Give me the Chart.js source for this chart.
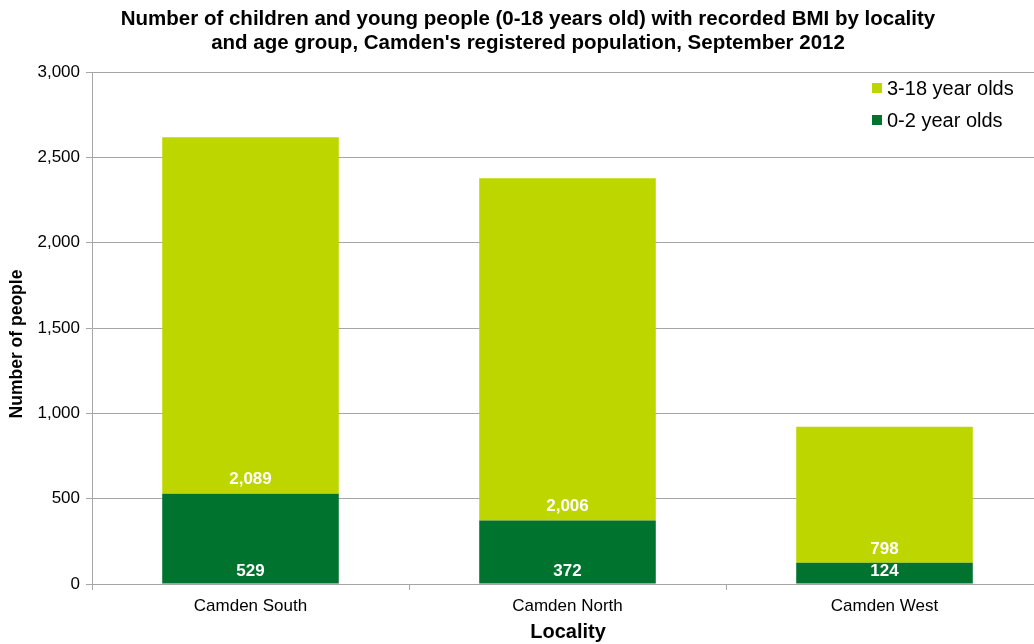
<!DOCTYPE html>
<html>
<head>
<meta charset="utf-8">
<title>Children with recorded BMI by locality</title>
<script src="https://cdn.jsdelivr.net/npm/chart.js@4/dist/chart.umd.min.js"></script>
<style>
  html, body { margin: 0; padding: 0; background: #fff; overflow: hidden; }
  #wrap { width: 1034px; height: 644px; position: relative; overflow: hidden; }
  canvas { display: block; }
</style>
</head>
<body>
<div id="wrap"><canvas id="bmiChart" width="1044" height="644"></canvas></div>
<script>
// Localities and counts by age group
const localities = ["Camden South", "Camden North", "Camden West"];
const age0to2 = [529, 372, 124];
const age3to18 = [2089, 2006, 798];
const yTicks = [0, 500, 1000, 1500, 2000, 2500, 3000];

const titleLines = [
  "Number of children and young people (0-18 years old) with recorded BMI by locality",
  "and age group, Camden's registered population, September 2012"
];
const yTitle = "Number of people";
const xTitle = "Locality";

const FONT = "'Liberation Sans', Arial, sans-serif";
const DARK_GREEN = "#00732E";
const LIGHT_GREEN = "#BED600";

// Draws title, axis titles, legend and in-bar value labels
const annotations = {
  id: "annotations",
  afterDraw(chart) {
    const ctx = chart.ctx;
    ctx.save();

    // main title
    ctx.fillStyle = "#000";
    ctx.font = "bold 20.5px " + FONT;
    ctx.textAlign = "center";
    ctx.textBaseline = "middle";
    ctx.fillText(titleLines[0], 528, 19);
    ctx.fillText(titleLines[1], 528, 43);

    // axis titles
    ctx.font = "bold 20px " + FONT;
    ctx.fillText(xTitle, 568, 632);
    ctx.save();
    ctx.font = "bold 17.5px " + FONT;
    ctx.translate(17, 344);
    ctx.rotate(-Math.PI / 2);
    ctx.fillText(yTitle, 0, 0);
    ctx.restore();

    // legend, top right inside the plot
    const items = [
      { text: "3-18 year olds", color: LIGHT_GREEN },
      { text: "0-2 year olds", color: DARK_GREEN }
    ];
    ctx.font = "20px " + FONT;
    ctx.textAlign = "left";
    items.forEach((it, i) => {
      const y = 88 + i * 32;
      ctx.fillStyle = it.color;
      ctx.fillRect(872, y - 5, 10, 10);
      ctx.fillStyle = "#000";
      ctx.fillText(it.text, 887, y + 1);
    });

    // value labels at the base of each segment
    ctx.font = "bold 17px " + FONT;
    ctx.textAlign = "center";
    ctx.fillStyle = "#fff";
    const offsets = [12, 14];
    chart.data.datasets.forEach((ds, di) => {
      const meta = chart.getDatasetMeta(di);
      meta.data.forEach((bar, i) => {
        ctx.fillText(ds.data[i].toLocaleString("en-GB"), bar.x, bar.base - offsets[di]);
      });
    });

    ctx.restore();
  }
};

new Chart(document.getElementById("bmiChart"), {
  type: "bar",
  data: {
    labels: localities,
    datasets: [
      {
        label: "0-2 year olds",
        data: age0to2,
        backgroundColor: DARK_GREEN
      },
      {
        label: "3-18 year olds",
        data: age3to18,
        backgroundColor: LIGHT_GREEN
      }
    ]
  },
  options: {
    responsive: false,
    animation: false,
    layout: { padding: { top: 72, right: 1, left: 0, bottom: 0 } },
    datasets: {
      bar: { barPercentage: 0.557, categoryPercentage: 1 }
    },
    plugins: {
      legend: { display: false },
      title: { display: false },
      tooltip: { enabled: false }
    },
    scales: {
      x: {
        stacked: true,
        afterFit(scale) { scale.height = 60; },
        grid: {
          offset: true,
          drawOnChartArea: false,
          drawTicks: true,
          tickLength: 6,
          color: "#a6a6a6"
        },
        border: { color: "#a6a6a6", width: 1 },
        ticks: {
          color: "#000",
          font: { family: FONT, size: 17 },
          padding: 6
        }
      },
      y: {
        stacked: true,
        min: 0,
        max: 3000,
        afterFit(scale) { scale.width = 92; },
        afterBuildTicks(scale) {
          scale.ticks = yTicks.map(v => ({ value: v }));
        },
        grid: {
          color: "#a6a6a6",
          tickLength: 6,
          drawTicks: true
        },
        border: { color: "#a6a6a6", width: 1 },
        ticks: {
          color: "#000",
          font: { family: FONT, size: 17 },
          padding: 6,
          callback: v => v.toLocaleString("en-GB")
        }
      }
    }
  },
  plugins: [annotations]
});
</script>
</body>
</html>
